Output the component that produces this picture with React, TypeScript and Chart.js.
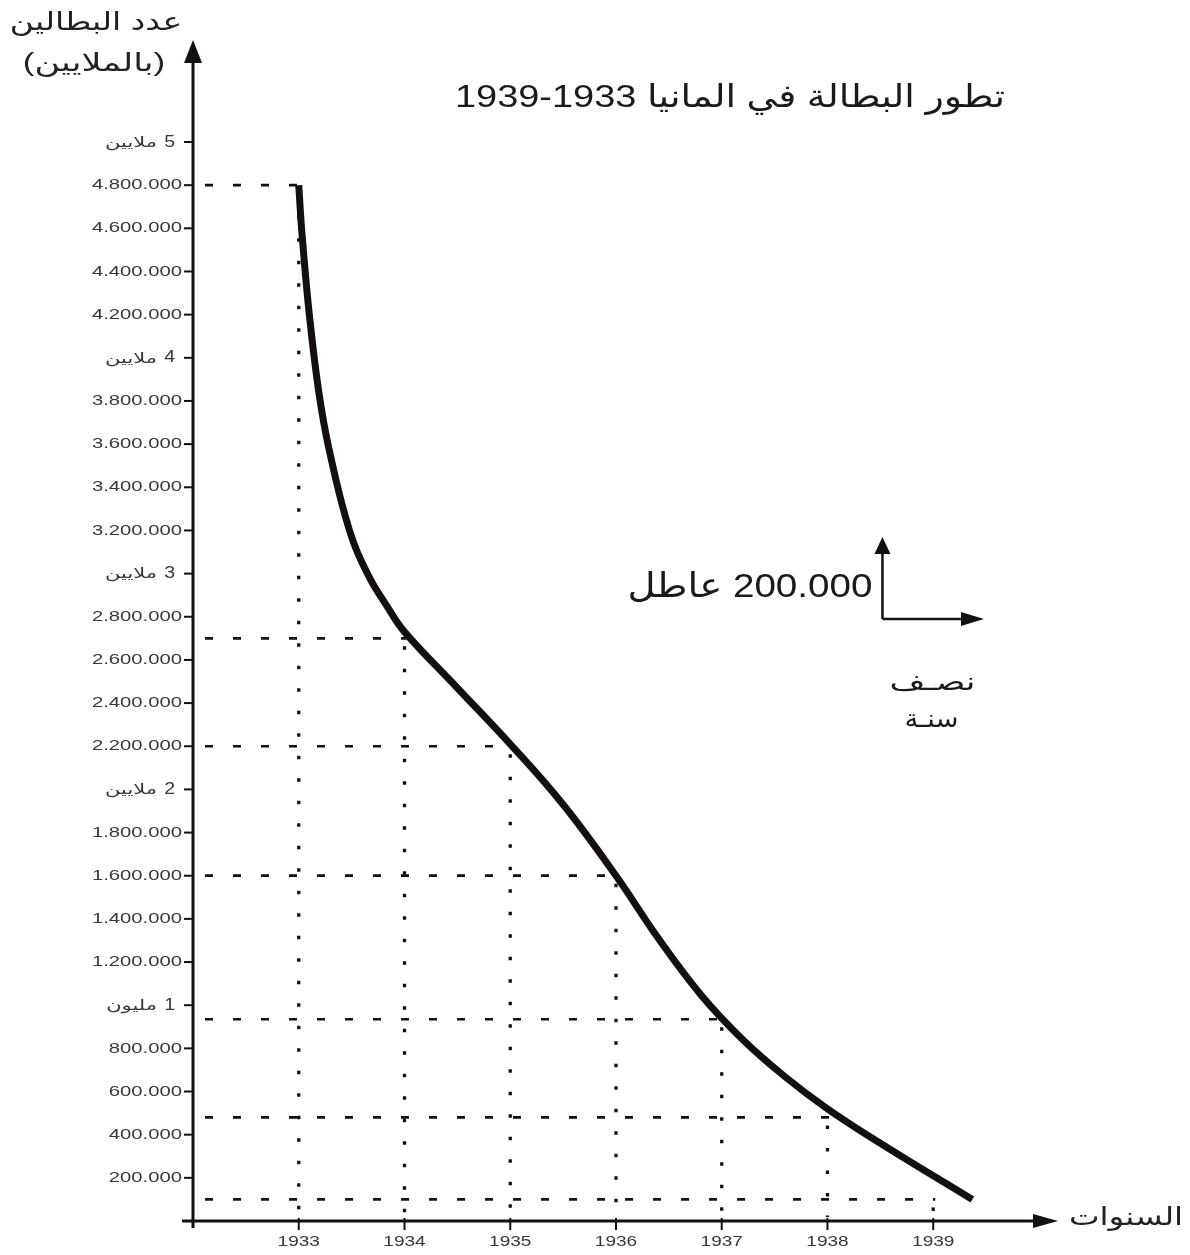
import React, { useEffect, useRef } from "react";
import { Chart, registerables } from "chart.js";

Chart.register(...registerables);

// ---- data ----
const curveYears = [1933.0, 1933.03, 1933.1, 1933.19, 1933.285, 1933.48, 1933.66, 1933.84, 1934.0, 1934.5, 1935.0, 1935.5, 1936.0, 1936.4, 1936.8, 1937.2, 1937.6, 1938.0, 1938.5, 1939.0, 1939.37];
const curveValues = [4800000, 4580000, 4200000, 3840000, 3580000, 3200000, 2990000, 2845000, 2730000, 2470000, 2210000, 1930000, 1600000, 1310000, 1050000, 840000, 668000, 520000, 360000, 210000, 100000];

const guideYears = [1933, 1934, 1935, 1936, 1937, 1938, 1939];
const guideValues = [4800000, 2700000, 2200000, 1600000, 935000, 480000, 100000];

const yTickValues = [200000, 400000, 600000, 800000, 1200000, 1400000, 1600000, 1800000, 2200000, 2400000, 2600000, 2800000, 3200000, 3400000, 3600000, 3800000, 4200000, 4400000, 4600000, 4800000];
const yTickLabels = ["200.000", "400.000", "600.000", "800.000", "1.200.000", "1.400.000", "1.600.000", "1.800.000", "2.200.000", "2.400.000", "2.600.000", "2.800.000", "3.200.000", "3.400.000", "3.600.000", "3.800.000", "4.200.000", "4.400.000", "4.600.000", "4.800.000"];
const millionValues = [1000000, 2000000, 3000000, 4000000, 5000000];
const millionNumbers = ["1", "2", "3", "4", "5"];
const millionWords = ["مليون", "ملايين", "ملايين", "ملايين", "ملايين"];

const xTickYears = [1933, 1934, 1935, 1936, 1937, 1938, 1939];
const xTickLabels = ["1933", "1934", "1935", "1936", "1937", "1938", "1939"];

const titleText = "تطور البطالة في المانيا 1933-1939";
const yTitleLine1 = "عدد البطالين";
const yTitleLine2 = "(بالملايين)";
const xTitle = "السنوات";
const keyValueText = "200.000 عاطل";
const keyLine1 = "نصـف";
const keyLine2 = "سنـة";

// key anchor (in scale units)
const KEY_X = 1938.52;
const KEY_Y = 2790000;
const KEY_TOP = 3170000;
const KEY_RIGHT = 1939.48;

const FONT = '"Liberation Sans", "DejaVu Sans", Arial, sans-serif';
const INK = "#151010";
const LABEL = "#383838";

function txt(
  ctx: CanvasRenderingContext2D,
  s: string,
  x: number,
  y: number,
  font: string,
  align: CanvasTextAlign,
  color: string,
  sx = 1,
  dir: CanvasDirection = "ltr",
  baseline: CanvasTextBaseline = "middle",
  fitWidth = 0
) {
  ctx.save();
  ctx.font = font;
  ctx.direction = dir;
  if (fitWidth > 0) {
    const w = ctx.measureText(s).width;
    if (w > 0) sx = fitWidth / w;
  }
  ctx.translate(x, y);
  ctx.scale(sx, 1);
  ctx.textAlign = align;
  ctx.textBaseline = baseline;
  ctx.fillStyle = color;
  ctx.fillText(s, 0, 0);
  ctx.restore();
}

const decor = {
  id: "decor",
  beforeDatasetsDraw(chart: any) {
    const ctx: CanvasRenderingContext2D = chart.ctx;
    const xs = chart.scales.x;
    const ys = chart.scales.y;
    const x0 = xs.getPixelForValue(1932);
    const y0 = ys.getPixelForValue(0);
    ctx.save();
    ctx.strokeStyle = INK;
    // horizontal dashed guides
    ctx.lineWidth = 2.7;
    ctx.setLineDash([8, 20]);
    guideValues.forEach((v, i) => {
      const y = ys.getPixelForValue(v);
      const xe = xs.getPixelForValue(guideYears[i]);
      ctx.beginPath();
      ctx.moveTo(x0 + 12, y);
      ctx.lineTo(xe + 2, y);
      ctx.stroke();
    });
    // vertical dotted guides
    ctx.lineWidth = 3.3;
    ctx.setLineDash([3.5, 19]);
    guideValues.forEach((v, i) => {
      const y = ys.getPixelForValue(v);
      const x = xs.getPixelForValue(guideYears[i]);
      ctx.beginPath();
      ctx.moveTo(x, y + 8);
      ctx.lineTo(x, y0 - 4);
      ctx.stroke();
    });
    ctx.restore();
  },
  afterDatasetsDraw(chart: any) {
    const ctx: CanvasRenderingContext2D = chart.ctx;
    const xs = chart.scales.x;
    const ys = chart.scales.y;
    const x0 = xs.getPixelForValue(1932);
    const y0 = ys.getPixelForValue(0);
    const yTop = ys.getPixelForValue(ys.max);
    const xRight = xs.getPixelForValue(xs.max);
    ctx.save();
    ctx.strokeStyle = INK;
    ctx.fillStyle = INK;
    ctx.setLineDash([]);
    // y axis
    ctx.lineWidth = 3;
    ctx.beginPath();
    ctx.moveTo(x0, y0 + 7);
    ctx.lineTo(x0, yTop + 18);
    ctx.stroke();
    ctx.beginPath();
    ctx.moveTo(x0, yTop);
    ctx.lineTo(x0 - 9, yTop + 23);
    ctx.lineTo(x0 + 9, yTop + 23);
    ctx.closePath();
    ctx.fill();
    // x axis
    ctx.beginPath();
    ctx.moveTo(x0 - 11, y0);
    ctx.lineTo(xRight - 18, y0);
    ctx.stroke();
    ctx.beginPath();
    ctx.moveTo(xRight, y0);
    ctx.lineTo(xRight - 25, y0 - 7);
    ctx.lineTo(xRight - 25, y0 + 7);
    ctx.closePath();
    ctx.fill();
    // y ticks
    ctx.lineWidth = 2;
    [...yTickValues, ...millionValues].forEach((v) => {
      const y = ys.getPixelForValue(v);
      ctx.beginPath();
      ctx.moveTo(x0 - 9, y);
      ctx.lineTo(x0, y);
      ctx.stroke();
    });
    // x ticks
    xTickYears.forEach((yr) => {
      const x = xs.getPixelForValue(yr);
      ctx.beginPath();
      ctx.moveTo(x, y0 - 3);
      ctx.lineTo(x, y0 + 9);
      ctx.stroke();
    });
    ctx.restore();

    // y tick labels
    yTickValues.forEach((v, i) => {
      txt(ctx, yTickLabels[i], x0 - 11, ys.getPixelForValue(v), `15px ${FONT}`, "right", LABEL, 1.35);
    });
    millionValues.forEach((v, i) => {
      const y = ys.getPixelForValue(v);
      txt(ctx, millionNumbers[i], x0 - 18, y, `17px ${FONT}`, "right", LABEL, 1.15);
      txt(ctx, millionWords[i], x0 - 36, y + 1, `14px ${FONT}`, "right", LABEL, 1.5);
    });
    // x tick labels
    xTickYears.forEach((yr, i) => {
      txt(ctx, xTickLabels[i], xs.getPixelForValue(yr), y0 + 21, `15px ${FONT}`, "center", LABEL, 1.27);
    });

    // axis titles
    txt(ctx, yTitleLine1, x0 - 97, 23, `25px ${FONT}`, "center", "#222", 1.32, "rtl");
    txt(ctx, yTitleLine2, x0 - 99, 64, `25px ${FONT}`, "center", "#222", 1.4, "rtl");
    txt(ctx, xTitle, xRight + 68, y0 - 3, `25px ${FONT}`, "center", "#222", 1.3, "rtl");

    // chart title
    txt(ctx, titleText, 1005, 107, `32px ${FONT}`, "right", "#1a1a1a", 1, "rtl", "alphabetic", 550);

    // scale key
    const kx = xs.getPixelForValue(KEY_X);
    const ky = ys.getPixelForValue(KEY_Y);
    const kt = ys.getPixelForValue(KEY_TOP);
    const kr = xs.getPixelForValue(KEY_RIGHT);
    ctx.save();
    ctx.strokeStyle = INK;
    ctx.fillStyle = INK;
    ctx.lineWidth = 2.5;
    ctx.beginPath();
    ctx.moveTo(kx, ky);
    ctx.lineTo(kx, kt + 10);
    ctx.moveTo(kx, ky);
    ctx.lineTo(kr - 12, ky);
    ctx.stroke();
    ctx.beginPath();
    ctx.moveTo(kx, kt);
    ctx.lineTo(kx - 8, kt + 17);
    ctx.lineTo(kx + 8, kt + 17);
    ctx.closePath();
    ctx.fill();
    ctx.beginPath();
    ctx.moveTo(kr, ky);
    ctx.lineTo(kr - 23, ky - 7);
    ctx.lineTo(kr - 23, ky + 7);
    ctx.closePath();
    ctx.fill();
    ctx.restore();
    txt(ctx, keyValueText, kx - 10, ky - 22, `34px ${FONT}`, "right", "#1a1a1a", 1, "rtl", "alphabetic", 245);
    txt(ctx, keyLine1, kx + 50, ky + 64, `25px ${FONT}`, "center", "#1a1a1a", 1, "rtl", "middle", 86);
    txt(ctx, keyLine2, kx + 49, ky + 101, `25px ${FONT}`, "center", "#1a1a1a", 1, "rtl", "middle", 54);
  },
};

export default function App() {
  const ref = useRef<HTMLCanvasElement>(null);
  useEffect(() => {
    if (!ref.current) return;
    const chart = new Chart(ref.current, {
      type: "line",
      data: {
        datasets: [
          {
            data: curveYears.map((x, i) => ({ x, y: curveValues[i] })),
            borderColor: INK,
            borderWidth: 7,
            pointRadius: 0,
            fill: false,
            tension: 0.4,
            borderCapStyle: "butt",
            borderJoinStyle: "round",
          },
        ],
      },
      options: {
        animation: false,
        responsive: false,
        maintainAspectRatio: false,
        devicePixelRatio: 1,
        layout: { padding: { left: 193, top: 40, right: 132, bottom: 34 } },
        plugins: { legend: { display: false }, tooltip: { enabled: false }, title: { display: false } },
        scales: {
          x: { type: "linear", display: false, min: 1932, max: 1940.18 },
          y: { type: "linear", display: false, min: 0, max: 5472700 },
        },
      },
      plugins: [decor],
    });
    return () => chart.destroy();
  }, []);
  return (
    <div style={{ position: "fixed", left: 0, top: 0, width: 1190, height: 1255, background: "#fff" }}>
      <canvas ref={ref} width={1190} height={1255} style={{ width: 1190, height: 1255, display: "block" }} />
    </div>
  );
}
